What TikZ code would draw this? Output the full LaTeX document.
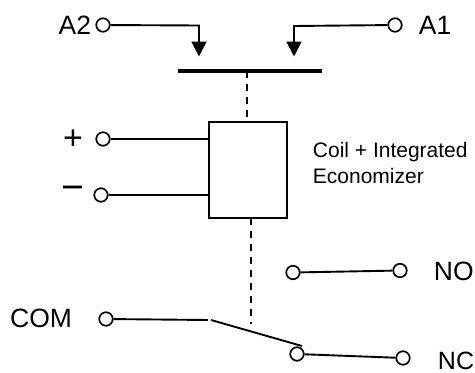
\documentclass[tikz,border=0pt]{standalone}
\usepackage{fontspec}
\setmainfont{Liberation Sans}
\usetikzlibrary{arrows.meta}
\begin{document}
\begin{tikzpicture}[x=1pt,y=-1pt,line width=1.9pt,
  term/.style={circle,draw,fill=white,inner sep=0pt,minimum size=13.5pt,line width=1.7pt},
  lab/.style={inner sep=0pt,font=\fontsize{26.5}{28}\selectfont},
  small/.style={inner sep=0pt,align=left,font=\fontsize{21}{26}\selectfont},
  sign/.style={inner sep=0pt,font=\fontsize{34}{36}\selectfont},
  arr/.style={-{Triangle[length=15pt,width=15pt]}},
  dashline/.style={dash pattern=on 7pt off 6pt}]
\useasboundingbox (0,0) rectangle (475,373);
\node[term] (a2) at (103,25) {};
\node[term] (a1) at (395,25) {};
\node[lab,anchor=east] (a2l) at (92,25) {A2};
\node[lab,anchor=west] (a1l) at (418,25) {A1};
\coordinate (b2) at (199,25.5);
\coordinate (t2) at (199,56.5);
\coordinate (b1) at (294,26);
\coordinate (t1) at (294,56.5);
\draw[arr] (a2) -- (b2) -- (t2);
\draw[arr] (a1) -- (b1) -- (t1);
\coordinate (barl) at (178,71);
\coordinate (barr) at (322,71);
\coordinate (barm) at (247,71);
\draw[line width=3.8pt] (barl) -- (barr);
\node[draw,minimum width=78pt,minimum height=96pt,inner sep=0pt,line width=1.7pt] (box) at (248,170) {};
\draw[dashline] (barm) -- (box.north -| barm);
\node[term] (plus) at (103,139) {};
\node[term] (minus) at (101,195) {};
\draw (plus) -- (plus -| box.west);
\draw (minus) -- (minus -| box.west);
\node[sign] (pl) at (73,140) {+};
\node[sign,scale=1.15] (mi) at (73,193) {−};
\node[small,anchor=north west] (coil) at (312,141) {Coil + Integrated\\Economizer};
\coordinate (dtop) at (251,218);
\coordinate (dbot) at (251,324);
\draw[dashline] (dtop) -- (dbot);
\node[term] (nol) at (293,272.5) {};
\node[term] (nor) at (400,270.5) {};
\draw (nol) -- (nor);
\node[lab,anchor=west] (nolab) at (433,271) {NO};
\node[term] (com) at (106,319) {};
\coordinate (comend) at (208,320);
\draw (com) -- (comend);
\node[lab,anchor=east] (comlab) at (73,318) {COM};
\node[term] (ncl) at (297,354) {};
\node[term] (ncr) at (403,358) {};
\draw (ncl) -- (ncr);
\coordinate (sw1) at (211,320);
\coordinate (sw2) at (302,346);
\draw (sw1) -- (sw2);
\node[inner sep=0pt,font=\fontsize{25}{28}\selectfont,anchor=west] (nclab) at (437,360.5) {NC};
\end{tikzpicture}
\end{document}
